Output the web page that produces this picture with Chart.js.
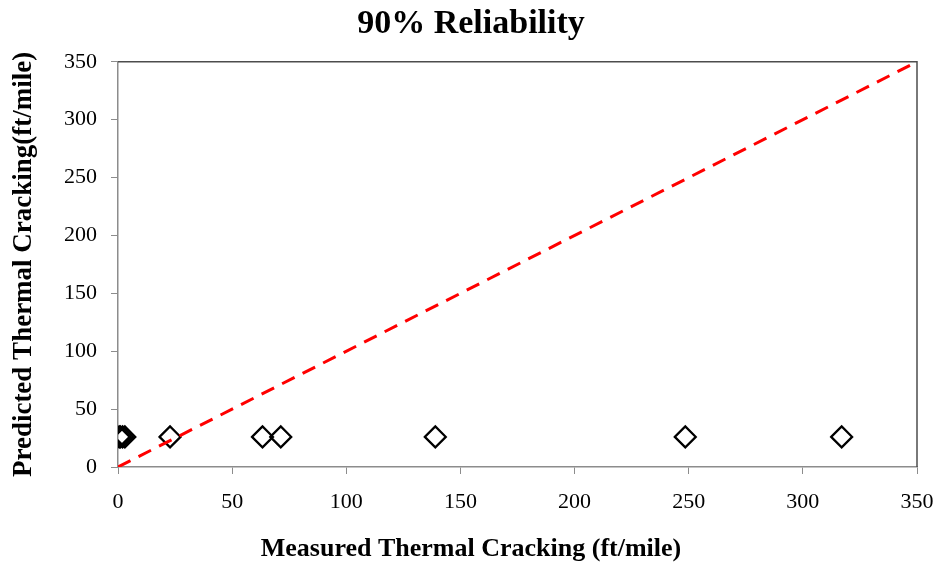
<!DOCTYPE html>
<html>
<head>
<meta charset="utf-8">
<script src="https://cdn.jsdelivr.net/npm/chart.js@4.4.1/dist/chart.umd.min.js"></script>
<style>
  html, body { margin: 0; padding: 0; background: #ffffff; }
  #wrap { width: 942px; height: 562px; }
</style>
</head>
<body>
<div id="wrap"><canvas id="reliability-chart"></canvas></div>
<script>
const measured = [0.5, 1, 2, 3, 22.8, 63.3, 71.3, 139, 248.5, 317];
const predicted = [26, 26, 26, 26, 26, 26, 26, 26, 26, 26];
const equalityLine = [0, 350];
const axisTicks = [0, 50, 100, 150, 200, 250, 300, 350];

const serif = "'Liberation Serif', 'Times New Roman', serif";

const scatterData = measured.map((m, i) => ({ x: m, y: predicted[i] }));
const lineData = equalityLine.map((v) => ({ x: v, y: v }));

// top and right edge of the plot box
const boxBorder = {
  id: "boxBorder",
  afterDraw(chart) {
    const { ctx, chartArea } = chart;
    ctx.save();
    ctx.strokeStyle = "#4d4d4d";
    ctx.lineWidth = 1.5;
    ctx.beginPath();
    ctx.moveTo(chartArea.left, chartArea.top);
    ctx.lineTo(chartArea.right, chartArea.top);
    ctx.lineTo(chartArea.right, chartArea.bottom);
    ctx.stroke();
    ctx.restore();
  },
};

const tickFont = { size: 22, family: serif };

const ctx = document.getElementById("reliability-chart").getContext("2d");

const reliabilityChart = new Chart(ctx, {
  type: "scatter",
  data: {
    datasets: [
      {
        label: "1:1",
        type: "line",
        data: lineData,
        borderColor: "#ff0000",
        borderWidth: 3,
        borderDash: [14, 9],
        pointRadius: 0,
        fill: false,
        order: 0,
      },
      {
        label: "Measured vs Predicted",
        data: scatterData,
        pointStyle: "rectRot",
        pointRadius: 10.5,
        pointHoverRadius: 10.5,
        pointBorderWidth: 2.2,
        pointBorderColor: "#000000",
        pointBackgroundColor: "rgba(255,255,255,0)",
        order: 1,
      },
    ],
  },
  options: {
    responsive: true,
    maintainAspectRatio: false,
    animation: false,
    layout: {
      padding: 0,
    },
    plugins: {
      legend: { display: false },
      tooltip: { enabled: false },
      title: {
        display: true,
        text: "90% Reliability",
        color: "#000000",
        font: { size: 34, family: serif, weight: "bold" },
        padding: { top: 4, bottom: 17 },
      },
      subtitle: {
        display: true,
        position: "bottom",
        text: "Measured Thermal Cracking (ft/mile)",
        color: "#000000",
        font: { size: 26, family: serif, weight: "bold", lineHeight: 1.0 },
        padding: { top: 0, bottom: 0 },
      },
    },
    scales: {
      x: {
        type: "linear",
        min: 0,
        max: 350,
        afterBuildTicks: (scale) => {
          scale.ticks = axisTicks.map((v) => ({ value: v }));
        },
        afterFit: (scale) => {
          scale.height = 69;
          scale.paddingLeft = 0;
          scale.paddingRight = 25;
        },
        grid: {
          drawOnChartArea: false,
          drawTicks: true,
          tickLength: 7,
          color: "#8c8c8c",
        },
        border: { color: "#8c8c8c", width: 1.5 },
        ticks: {
          color: "#000000",
          padding: 15,
          maxRotation: 0,
          font: tickFont,
        },
      },
      y: {
        type: "linear",
        min: 0,
        max: 350,
        afterBuildTicks: (scale) => {
          scale.ticks = axisTicks.map((v) => ({ value: v }));
        },
        afterFit: (scale) => {
          scale.width = 118;
          scale.paddingTop = 0;
          scale.paddingBottom = 0;
        },
        grid: {
          drawOnChartArea: false,
          drawTicks: true,
          tickLength: 7,
          color: "#8c8c8c",
        },
        border: { color: "#8c8c8c", width: 1.5 },
        ticks: {
          color: "#000000",
          padding: 14,
          font: tickFont,
        },
        title: {
          display: true,
          text: "Predicted Thermal Cracking(ft/mile)",
          color: "#000000",
          font: { size: 27, family: serif, weight: "bold" },
          padding: { top: 8, bottom: 0 },
        },
      },
    },
  },
  plugins: [boxBorder],
});
</script>
</body>
</html>
